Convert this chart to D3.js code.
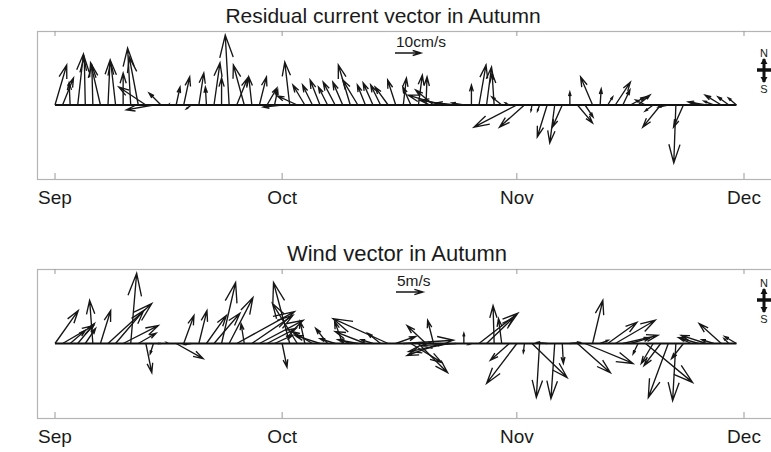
<!DOCTYPE html>
<html>
<head>
  <script src="https://d3js.org/d3.v7.min.js"></script>
  <style>
    body { margin: 0; background: #fff; }
    text { font-family: "Liberation Sans", Arial, sans-serif; fill: #1a1a1a; }
  </style>
</head>
<body>
  <script>
    const width = 771;
    const height = 452;

    // daily vectors, 1 Sep .. 30 Nov
    const start = new Date(2013, 8, 1);
    const end = new Date(2013, 11, 1);
    const days = d3.timeDay.range(start, end);

    const monthNames = ["Sep", "Oct", "Nov", "Dec"];
    const monthDates = [new Date(2013, 8, 1), new Date(2013, 9, 1), new Date(2013, 10, 1), new Date(2013, 11, 1)];

    // residual current, cm/s (east, north)
    const curU = [4.5, 4.2, -0.4, 2.2, -0.4, -0.4, -3.8, 0.8, -1.9, 0, -1.2, -3.5, -10.4, -10.4, -4.6, 0.2,
      1.5, 2.3, -1.9, 1.9, -0.4, 2.3, 0, -1.5, 4.2, -4.2, -1.2, 2.7, 3.8, 1.2,
      -7.3, -1.9, -7.7, -4.6, -3.8, -3.8, -3.5, -4.6, -3.8, -4.6, -5.8, -3.1, -3.8, -3.8, -5.0, -3.1,
      1.2, -3.1, 1.5, 0.4, -6.9, -12.7, -11.2, -7.7, -4.6, 0, 2.7, 1.9, -0.8, -3.8, -1.5,
      -16.5, -9.6, -0.4, -0.8, -3.8, -1.9, -3.8, 0, 5.8, 3.1, -4.6, 0.4, 1.9, 5.8, 2.7,
      5.8, 4.6, -3.8, -3.1, -6.9, -3.8, -0.8, -3.8, -1.2, -1.9, -6.9, -3.8, -6.2, -4.2, -3.1];
    const curV = [15.4, 10.4, 8.5, 19.6, 18.5, 15.4, 16.2, 17.3, 16.9, 12.3, 21.9, 18.5, 6.9, -1.9, 4.6, 0.3,
      6.9, 10.8, -1.5, 12.3, 6.9, 16.2, 10.4, 26.9, 10.4, 15.4, 10.8, 10.8, 6.5, 5.8,
      -0.8, 16.5, 3.5, 7.7, 7.7, 9.6, 6.9, 8.8, 8.8, 15.4, 9.6, 7.7, 8.5, 7.7, 6.9, 9.6,
      10.4, 6.9, 11.5, 10.8, 5.8, 3.8, 1.9, 0.8, 0.8, 7.7, 15.4, 14.6, 12.3, 3.1, 0.8,
      -8.5, -8.5, -2.3, -2.3, -12.3, -14.6, -8.5, 5.0, -6.9, -4.6, 10.8, 6.2, 3.1, 8.8, 5.8,
      3.1, 3.8, 1.9, -2.3, -8.5, -0.8, -22.3, -8.5, 0, 0.8, 1.2, 1.5, 3.8, 3.1, 2.7];

    // wind, m/s (east, north)
    const windU = [4.3, 5.7, 2.8, 3.1, 1.9, -0.6, 1.9, 8.1, 5.2, 6.5, 1.1, 3.3, 1.1, -0.6, -0.6, -0.4,
      5.0, 1.9, -1.3, 1.5, 3.7, 4.8, 2.6, 4.4, 10.7, -0.6, 7.6, 8.1, 5.4, 3.3,
      0.9, -3.0, -4.6, -0.9, -3.7, -4.6, -2.2, -2.8, -1.5, -1.9, -3.7, -5.6, -2.2, -2.4, -10.2, 3.7,
      9.3, 5.7, 5.4, -3.5, -1.1, -6.3, -7.4, -6.5, 0, -0.6, 7.2, 5.0, -0.2, -0.6, -3.5,
      -5.6, -0.2, 6.5, -0.6, -1.9, -0.7, 0.2, 1.9, 6.1, 8.9, 1.9, 1.5, 5.4, 7.4, 6.5,
      3.7, -0.9, 8.7, -2.2, -3.1, -3.7, -0.6, -2.2, -1.9, -3.7, -4.6, -2.2, -4.1, -0.9, -2.2];
    const windV = [6.1, 3.3, 2.4, 3.7, 2.8, 8.0, 6.1, 7.4, 6.1, 3.3, 13.0, 1.9, -5.4, -1.9, 0, 0.2,
      -2.8, 5.2, -0.2, 6.1, 5.2, 5.6, 11.3, 8.5, 5.9, 3.7, 5.2, 4.3, 2.8, 1.5,
      -4.4, 11.3, 7.4, 4.1, 2.2, 1.5, 2.8, 0.9, 4.1, 0.7, 0.7, 2.2, 0.7, 1.9, 4.6, 1.3,
      0.6, -3.5, -5.4, 3.3, 4.3, -2.2, -1.5, -0.4, 1.9, -0.2, 5.6, 4.8, 7.0, 4.6, -3.1,
      -7.4, -1.7, -6.3, -10.0, 0.2, -10.2, -3.7, 0.2, -5.4, -3.7, 8.0, 0.6, 3.9, 4.3, 1.5,
      1.1, -1.9, -7.2, -3.7, -4.1, -10.0, -10.6, -2.8, 0.9, 1.1, 1.5, 0.7, 3.7, 0.9, 1.3];

    const svg = d3.select("body")
      .append("svg")
      .attr("width", width)
      .attr("height", height);

    const x = d3.scaleTime()
      .domain([start, end])
      .range([55, 744]);

    // quiver style arrow: shaft plus two open head lines
    function arrowPath(x0, y0, x1, y1) {
      const dx = x1 - x0, dy = y1 - y0;
      const a = 0.32, b = 0.3;
      const h1x = x1 - a * (dx + b * dy), h1y = y1 - a * (dy - b * dx);
      const h2x = x1 - a * (dx - b * dy), h2y = y1 - a * (dy + b * dx);
      return `M${x0},${y0}L${x1},${y1}M${h1x},${h1y}L${x1},${y1}L${h2x},${h2y}`;
    }

    function panel(opts) {
      const g = svg.append("g");
      const top = opts.top, bottom = opts.bottom;
      // same pixels per unit on both axes
      const half = (bottom - top) / 2 / opts.pxPerUnit;
      const y = d3.scaleLinear().domain([-half, half]).range([bottom, top]);
      const k = d3.scaleLinear().domain([0, 1]).range([0, opts.pxPerUnit]);

      g.append("rect")
        .attr("x", 37.5).attr("y", top + 0.5)
        .attr("width", 760).attr("height", bottom - top)
        .attr("fill", "none").attr("stroke", "#b4b4b4").attr("stroke-width", 1.2);

      g.selectAll(".tick-top")
        .data(monthDates)
        .join("line")
        .attr("class", "tick-top")
        .attr("x1", d => x(d)).attr("x2", d => x(d))
        .attr("y1", top).attr("y2", top + 5)
        .attr("stroke", "#999");
      g.selectAll(".tick-bot")
        .data(monthDates)
        .join("line")
        .attr("class", "tick-bot")
        .attr("x1", d => x(d)).attr("x2", d => x(d))
        .attr("y1", bottom).attr("y2", bottom - 6)
        .attr("stroke", "#999");

      g.selectAll(".mlabel")
        .data(monthDates)
        .join("text")
        .attr("class", "mlabel")
        .attr("x", d => x(d))
        .attr("y", bottom + 25)
        .attr("text-anchor", "middle")
        .attr("font-size", "19px")
        .text((d, i) => monthNames[i]);

      g.append("text")
        .attr("x", opts.titleX)
        .attr("y", top - 8)
        .attr("text-anchor", "middle")
        .attr("font-size", opts.titleSize)
        .text(opts.title);

      // baseline
      g.append("line")
        .attr("x1", x(days[0])).attr("x2", x(days[days.length - 1]))
        .attr("y1", y(0)).attr("y2", y(0))
        .attr("stroke", "#111").attr("stroke-width", 1.8);

      g.selectAll(".vec")
        .data(days)
        .join("path")
        .attr("class", "vec")
        .attr("d", (d, i) => arrowPath(x(d), y(0), x(d) + k(opts.u[i]), y(opts.v[i])))
        .attr("fill", "none")
        .attr("stroke", "#161616")
        .attr("stroke-width", 1.35);

      // reference arrow
      g.append("path")
        .attr("d", arrowPath(opts.refX, opts.refY, opts.refX + k(opts.refVal), opts.refY))
        .attr("fill", "none").attr("stroke", "#161616").attr("stroke-width", 1.35);
      g.append("text")
        .attr("x", opts.refX + 1)
        .attr("y", opts.refY - 6)
        .attr("font-size", "15.5px")
        .text(opts.refLabel);

      // north / south marker
      const cx = 764, cy = opts.compassY;
      g.append("text").attr("x", cx).attr("y", cy - 12).attr("text-anchor", "middle")
        .attr("font-size", "11px").text("N");
      g.append("text").attr("x", cx).attr("y", cy + 24).attr("text-anchor", "middle")
        .attr("font-size", "11px").text("S");
      g.append("line").attr("x1", cx).attr("x2", cx).attr("y1", cy - 10).attr("y2", cy + 13)
        .attr("stroke", "#111").attr("stroke-width", 3);
      g.append("line").attr("x1", cx - 7).attr("x2", cx + 7).attr("y1", cy + 1).attr("y2", cy + 1)
        .attr("stroke", "#111").attr("stroke-width", 3.5);
      g.append("path")
        .attr("d", `M${cx - 3.5},${cy - 5}L${cx},${cy - 11}L${cx + 3.5},${cy - 5}Z M${cx - 3.5},${cy + 8}L${cx},${cy + 14}L${cx + 3.5},${cy + 8}Z`)
        .attr("fill", "#111");
    }

    panel({
      top: 31, bottom: 179, pxPerUnit: 2.6,
      u: curU, v: curV,
      title: "Residual current vector in Autumn", titleX: 383, titleSize: "21px",
      refX: 395, refY: 53, refVal: 10, refLabel: "10cm/s",
      compassY: 69
    });

    panel({
      top: 269, bottom: 418, pxPerUnit: 5.4,
      u: windU, v: windV,
      title: "Wind vector in Autumn", titleX: 397, titleSize: "22px",
      refX: 396, refY: 292, refVal: 5, refLabel: "5m/s",
      compassY: 299
    });
  </script>
</body>
</html>
